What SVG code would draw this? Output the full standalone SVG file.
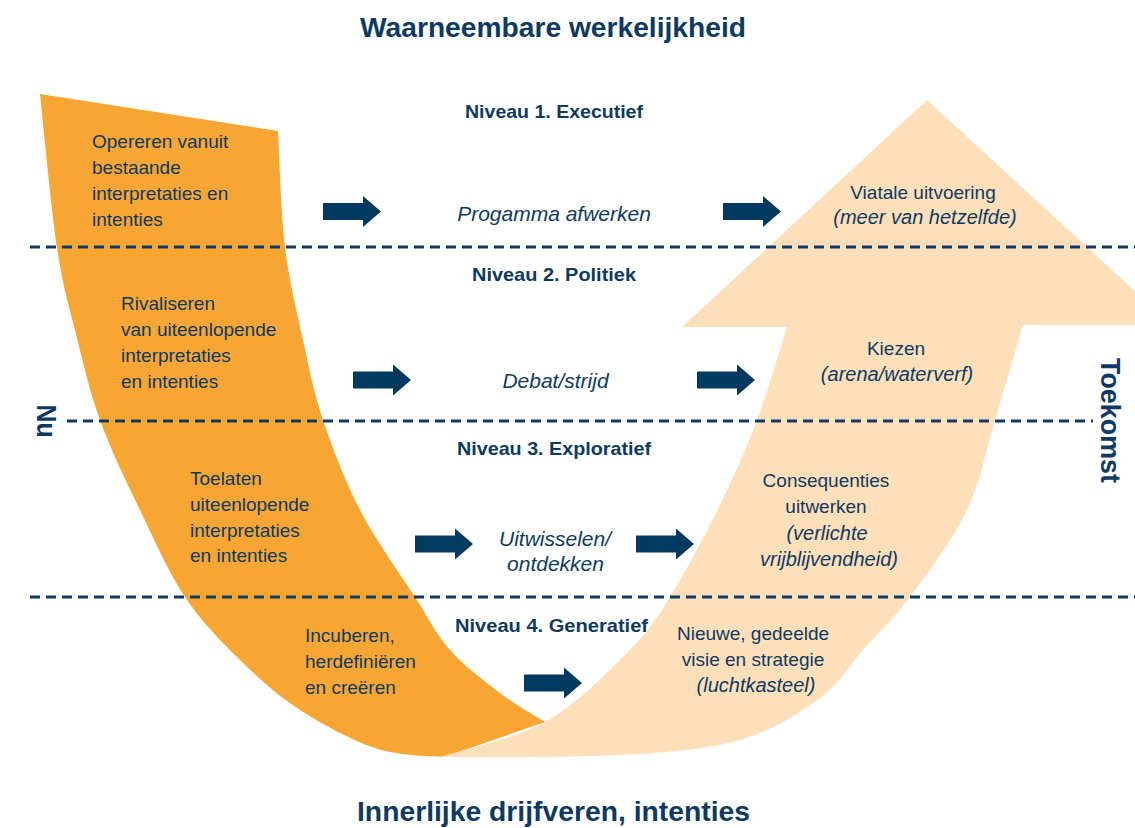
<svg xmlns="http://www.w3.org/2000/svg" xmlns:xlink="http://www.w3.org/1999/xlink" width="1135" height="828" viewBox="0 0 1135 828">
  <defs>
    <style>
      .t { font-family: "Liberation Sans", Arial, sans-serif; fill: #0d3a63; }
      .body { font-size: 19px; }
      .it { font-size: 20px; font-style: italic; }
      .mid { font-size: 21px; font-style: italic; text-anchor: middle; }
      .c { text-anchor: middle; }
      .lvl { font-size: 19px; font-weight: bold; text-anchor: middle; }
      .ttl { font-size: 27px; font-weight: bold; text-anchor: middle; }
      .side { font-size: 28px; font-weight: bold; text-anchor: middle; }
      .dash { stroke: #0d3a63; stroke-width: 3; stroke-dasharray: 10 6; fill: none; }
      .blk { fill: #023961; }
    </style>
    <!-- solid block arrow, 58 x 31, tip pointing right -->
    <path id="blk" d="M0,-8.5 H40 V-15.5 L58,0 L40,15.5 V8.5 H0 Z"/>
  </defs>

  <rect width="1135" height="828" fill="#ffffff"/>

  <!-- orange band: from the present, down into the depth -->
  <g id="band-nu">
    <path fill="#f7a633" d="M40,94 L278,131
      C279.2,150.3 280.8,212.2 285,247
      C289.2,281.8 296.7,311.2 303,340
      C309.3,368.8 313.5,391.7 323,420
      C332.5,448.3 344.7,480.5 360,510
      C375.3,539.5 400,573.7 415,597
      C430,620.3 435.8,634 450,650
      C464.2,666 484.2,681 500,693
      C515.8,705 537.5,717.2 545,722
      L444,757
      C433.3,756.3 399.2,756 375,748
      C350.8,740 322.5,724.7 300,710
      C277.5,695.3 259.2,678.8 240,660
      C220.8,641.2 201.7,622 185,597
      C168.3,572 154.2,539.5 140,510
      C125.8,480.5 110.8,450 100,420
      C89.2,390 82.2,358.8 75,330
      C67.8,301.2 62.8,286.3 57,247
      C51.2,207.7 42.8,119.5 40,94 Z"/>
  </g>

  <!-- peach arrow: back up towards the future -->
  <g id="arrow-toekomst">
    <path fill="#fde0b9" d="M440,757
      C457.5,751.2 513.8,739.3 545,722
      C576.2,704.7 606.2,673.8 627,653
      C647.8,632.2 654.5,621.7 670,597
      C685.5,572.3 705.5,534.5 720,505
      C734.5,475.5 745.8,449.7 757,420
      C768.2,390.3 782,342.5 787,327
      L682,327 L927,100 L1172,325 L1023,325
      C1018.3,340.8 1004.3,389.2 995,420
      C985.7,450.8 981.2,480.5 967,510
      C952.8,539.5 927.3,573.7 910,597
      C892.7,620.3 878,633.2 863,650
      C848,666.8 840.5,683 820,698
      C799.5,713 773.3,730.5 740,740
      C706.7,749.5 670,752.2 620,755
      C570,757.8 470,756.7 440,757 Z"/>
  </g>

  <!-- level boundaries -->
  <g id="levels">
    <line class="dash" x1="30" y1="247" x2="1135" y2="247"/>
    <line class="dash" x1="67" y1="421" x2="1093" y2="421"/>
    <line class="dash" x1="30" y1="597" x2="1135" y2="597"/>
  </g>

  <!-- titles -->
  <g id="title-top">
    <text class="t ttl" x="553" y="37" textLength="386" lengthAdjust="spacingAndGlyphs">Waarneembare werkelijkheid</text>
  </g>
  <g id="title-bottom">
    <text class="t ttl" x="553.5" y="821" textLength="393" lengthAdjust="spacingAndGlyphs">Innerlijke drijfveren, intenties</text>
  </g>
  <g id="label-nu">
    <text class="t side" transform="translate(37,421) rotate(90)" textLength="33" lengthAdjust="spacingAndGlyphs">Nu</text>
  </g>
  <g id="label-toekomst">
    <text class="t side" transform="translate(1101,420.5) rotate(90)" textLength="125" lengthAdjust="spacingAndGlyphs">Toekomst</text>
  </g>

  <!-- level headings -->
  <g id="niveau-1"><text class="t lvl" x="554" y="118" textLength="178" lengthAdjust="spacingAndGlyphs">Niveau 1. Executief</text></g>
  <g id="niveau-2"><text class="t lvl" x="554" y="281" textLength="164" lengthAdjust="spacingAndGlyphs">Niveau 2. Politiek</text></g>
  <g id="niveau-3"><text class="t lvl" x="554" y="455" textLength="194" lengthAdjust="spacingAndGlyphs">Niveau 3. Exploratief</text></g>
  <g id="niveau-4"><text class="t lvl" x="551.5" y="632" textLength="193" lengthAdjust="spacingAndGlyphs">Niveau 4. Generatief</text></g>

  <!-- starting points (orange band) -->
  <g id="start-1" class="t body">
    <text x="92" y="148">Opereren vanuit</text>
    <text x="92" y="174">bestaande</text>
    <text x="92" y="200">interpretaties en</text>
    <text x="92" y="226">intenties</text>
  </g>
  <g id="start-2" class="t body">
    <text x="121" y="310">Rivaliseren</text>
    <text x="121" y="336">van uiteenlopende</text>
    <text x="121" y="362">interpretaties</text>
    <text x="121" y="388">en intenties</text>
  </g>
  <g id="start-3" class="t body">
    <text x="190" y="484.5">Toelaten</text>
    <text x="190" y="510.5">uiteenlopende</text>
    <text x="190" y="536.5">interpretaties</text>
    <text x="190" y="562">en intenties</text>
  </g>
  <g id="start-4" class="t body">
    <text x="305" y="642">Incuberen,</text>
    <text x="305" y="668">herdefiniëren</text>
    <text x="305" y="694">en creëren</text>
  </g>

  <!-- processes -->
  <g id="proces-1"><text class="t mid" x="554" y="220.5">Progamma afwerken</text></g>
  <g id="proces-2"><text class="t mid" x="555.5" y="388">Debat/strijd</text></g>
  <g id="proces-3">
    <text class="t mid" x="555" y="546">Uitwisselen/</text>
    <text class="t mid" x="555.5" y="571">ontdekken</text>
  </g>

  <!-- outcomes (peach arrow) -->
  <g id="uitkomst-1">
    <text class="t body c" x="923" y="199">Viatale uitvoering</text>
    <text class="t it c" x="925" y="224">(meer van hetzelfde)</text>
  </g>
  <g id="uitkomst-2">
    <text class="t body c" x="896" y="355">Kiezen</text>
    <text class="t it c" x="897" y="381">(arena/waterverf)</text>
  </g>
  <g id="uitkomst-3">
    <text class="t body c" x="826" y="487">Consequenties</text>
    <text class="t body c" x="826" y="513">uitwerken</text>
    <text class="t it c" x="827" y="540">(verlichte</text>
    <text class="t it c" x="829" y="566">vrijblijvendheid)</text>
  </g>
  <g id="uitkomst-4">
    <text class="t body c" x="753" y="640">Nieuwe, gedeelde</text>
    <text class="t body c" x="753" y="666">visie en strategie</text>
    <text class="t it c" x="756" y="692">(luchtkasteel)</text>
  </g>

  <!-- block arrows between start, process and outcome -->
  <g id="connectors" class="blk">
    <use xlink:href="#blk" transform="translate(323,211.5)"/>
    <use xlink:href="#blk" transform="translate(723,211.5)"/>
    <use xlink:href="#blk" transform="translate(353,380)"/>
    <use xlink:href="#blk" transform="translate(697,380)"/>
    <use xlink:href="#blk" transform="translate(415,544)"/>
    <use xlink:href="#blk" transform="translate(636,544)"/>
    <use xlink:href="#blk" transform="translate(524,683)"/>
  </g>
</svg>
